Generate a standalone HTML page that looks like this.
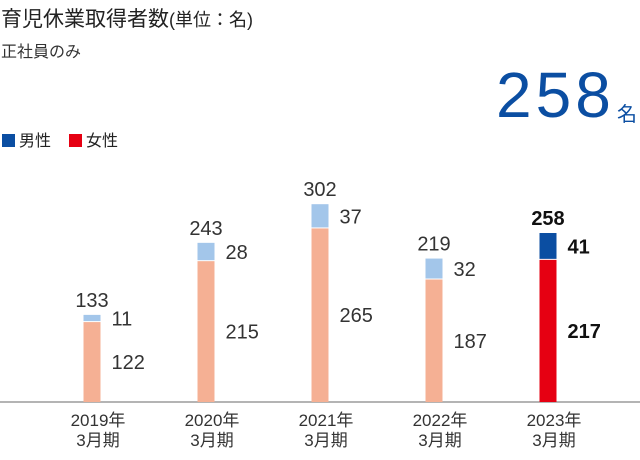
<!DOCTYPE html>
<html><head><meta charset="utf-8">
<style>
body{margin:0;background:#fff;}
#c{position:relative;width:640px;height:460px;overflow:hidden;font-family:"Liberation Sans","Noto Sans CJK JP",sans-serif;color:#222;}
.t{position:absolute;white-space:nowrap;}
</style></head><body>
<div id="c">
<div class="t" style="left:1px;top:3px;font-size:21px;">育児休業取得者数<span style="font-size:18px">(単位：名)</span></div>
<div class="t" style="left:1px;top:38px;font-size:16px;color:#333;">正社員のみ</div>
<div class="t" style="left:496px;top:58px;font-size:64px;color:#0b4ea2;letter-spacing:4px;font-weight:300;">258</div>
<div class="t" style="left:617px;top:98px;font-size:20px;color:#0b4ea2;">名</div>
<div class="t" style="left:2px;top:127px;font-size:16px;"><span style="display:inline-block;width:13px;height:13px;background:#0b4ea2;vertical-align:-1px;margin-right:4px"></span>男性</div>
<div class="t" style="left:69px;top:127px;font-size:16px;"><span style="display:inline-block;width:13px;height:13px;background:#e60012;vertical-align:-1px;margin-right:4px"></span>女性</div>
<svg id="s" width="640" height="460" style="position:absolute;left:0;top:0"></svg>
</div>
<script>
const categories=["2019年","2020年","2021年","2022年","2023年"];
const maleValues=[11,28,37,32,41];
const femaleValues=[122,215,265,187,217];
const highlightIndex=4;
const NS="http://www.w3.org/2000/svg";
const svg=document.getElementById("s");
const baseY=402,k=0.655,x0=92,step=114,bw=17;
function xPos(i){return x0+i*step;}
function yLen(v){return v*k;}
function mk(tag,attrs,txt){const e=document.createElementNS(NS,tag);for(const a in attrs)e.setAttribute(a,attrs[a]);if(txt!==undefined)e.textContent=txt;svg.appendChild(e);return e;}
const ax=mk("line",{x1:0,x2:640,y1:baseY,y2:baseY,stroke:"#888","stroke-width":1.2});


categories.forEach((c,i)=>{
  const cx=xPos(i),hi=i===highlightIndex;
  const f=femaleValues[i],m=maleValues[i],tot=f+m;
  const fh=yLen(f),mh=yLen(m);
  const fr=mk("rect",{x:cx-bw/2,y:baseY-fh,width:bw,height:fh,fill:hi?"#e60012":"#f5b094"});
  
  
  const mr=mk("rect",{x:cx-bw/2,y:baseY-fh-mh,width:bw,height:mh-1,fill:hi?"#0b4ea2":"#a3c6ea"});
  
  
  const fw=hi?"600":"normal",col=hi?"#111":"#333";
  const tl=mk("text",{x:cx,y:baseY-fh-mh-8,"text-anchor":"middle","font-size":20,"font-weight":fw,fill:col,"font-family":"Liberation Sans"},String(tot));
  
  
  const ml=mk("text",{x:cx+bw/2+11,y:baseY-fh-mh/2+7,"font-size":20,"font-weight":fw,fill:col,"font-family":"Liberation Sans"},String(m));
  
  
  const fl=mk("text",{x:cx+bw/2+11,y:baseY-fh/2+7,"font-size":20,"font-weight":fw,fill:col,"font-family":"Liberation Sans"},String(f));
  
  
  const c1=mk("text",{x:cx+6,y:426,"text-anchor":"middle","font-size":17,fill:"#333","font-family":"Liberation Sans, Noto Sans CJK JP, sans-serif"},c);
  
  
  const c2=mk("text",{x:cx+6,y:446,"text-anchor":"middle","font-size":17,fill:"#333","font-family":"Liberation Sans, Noto Sans CJK JP, sans-serif"},"3月期");
  
  
});
</script>
</body></html>
